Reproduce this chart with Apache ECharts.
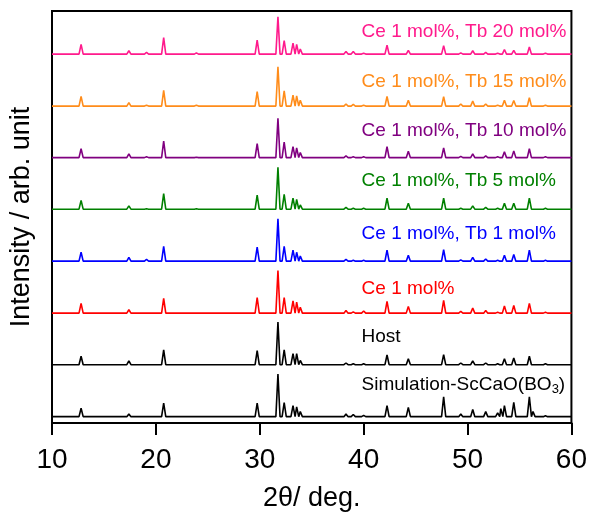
<!DOCTYPE html>
<html>
<head>
<meta charset="utf-8">
<script src="https://cdn.jsdelivr.net/npm/echarts@6/dist/echarts.min.js"></script>
<style>
    html, body { margin: 0; padding: 0; background: #fff; }
    #chart_xrd { width: 590px; height: 517px; }
</style>
</head>
<body>
<div id="chart_xrd"></div>
<script>
// 峰位 2θ (deg.)
var peakPos = [12.8, 17.4, 19.1, 20.75, 23.9, 29.75, 31.75, 32.35, 33.2, 33.55, 33.9, 38.3, 39.0, 40.0,
    42.25, 44.3, 47.7, 49.35, 50.5, 51.75, 52.9, 53.2, 53.55, 54.45, 55.95, 56.3, 57.5];

// 各曲线峰高 (相对强度, 主峰约 100)
var simPeak    = [20, 6, 0, 32, 0, 32, 101, 33, 26, 23, 12, 6, 5, 3, 26, 22, 47, 6, 17, 12, 9, 19, 26, 34, 47, 12, 2];
var hostPeak   = [20, 9, 0, 35, 0, 33, 101, 35, 26, 26, 10, 4, 2, 2, 23, 14, 24, 4, 9, 4, 2, 0, 14, 16, 20, 0, 2];
var ce1Peak    = [23, 8, 0, 35, 0, 37, 101, 37, 29, 26, 14, 6, 3, 5, 28, 16, 30, 4, 12, 6, 2, 0, 17, 18, 23, 0, 2];
var tb1Peak    = [21, 9, 4, 35, 0, 33, 100, 35, 26, 21, 12, 4, 2, 2, 26, 14, 27, 3, 9, 5, 2, 0, 14, 16, 26, 0, 2];
var tb5Peak    = [21, 8, 1, 37, 1, 33, 99, 35, 26, 23, 10, 4, 2, 2, 26, 14, 26, 2, 8, 4, 2, 0, 14, 14, 26, 0, 2];
var tb10Peak   = [21, 9, 2, 39, 1, 33, 93, 37, 26, 23, 12, 4, 2, 2, 26, 15, 23, 3, 9, 4, 2, 0, 14, 16, 21, 0, 2];
var tb15Peak   = [23, 8, 2, 37, 2, 34, 93, 36, 26, 24, 14, 5, 4, 2, 23, 14, 22, 5, 12, 5, 2, 0, 14, 13, 20, 0, 2];
var tb20Peak   = [23, 8, 4, 39, 3, 33, 88, 32, 26, 23, 12, 6, 6, 2, 21, 9, 20, 3, 8, 4, 2, 0, 11, 9, 17, 0, 2];

// 曲线名称 (自下而上)
var seriesNames = ['Simulation-ScCaO(BO3)', 'Host', 'Ce 1 mol%', 'Ce 1 mol%, Tb 1 mol%',
    'Ce 1 mol%, Tb 5 mol%', 'Ce 1 mol%, Tb 10 mol%', 'Ce 1 mol%, Tb 15 mol%', 'Ce 1 mol%, Tb 20 mol%'];

// 基线偏移
var offsets = [15, 138, 260, 383, 506, 628, 750, 873];

var allPeaks = [simPeak, hostPeak, ce1Peak, tb1Peak, tb5Peak, tb10Peak, tb15Peak, tb20Peak];
var colors = ['#000000', '#000000', '#ff0000', '#0000ff', '#008000', '#800080', '#ff8c1a', '#ff1a8c'];

// 标签相对基线的高度 / 起始 2θ
var labelRise = [76, 65, 58, 65, 67, 64, 58, 53];
var labelX = 39.8;

var font = 'Arial, "Liberation Sans", sans-serif';
var halfWidth = 0.2;

/**
 * 由峰位和峰高生成折线点
 * @param {arr} heights
 * @param {num} base
 */
var buildLine = function(heights, base) {
    var pts = [[10, base]];
    peakPos.forEach(function(p, i) {
        if (!heights[i]) return;
        pts.push([p - halfWidth, base], [p, base + heights[i]], [p + halfWidth, base]);
    });
    pts.push([60, base]);
    return pts;
};

var chart = echarts.init(document.getElementById('chart_xrd'));

var series = allPeaks.map(function(h, i) {
    var isSim = i === 0;
    return {
        name: seriesNames[i],
        type: 'line',
        symbol: 'none',
        lineStyle: { color: colors[i], width: 1.6 },
        data: buildLine(h, offsets[i]),
        markPoint: {
            symbol: 'circle',
            symbolSize: 0,
            silent: true,
            data: [{ coord: [labelX, offsets[i] + labelRise[i]] }],
            label: {
                show: true,
                position: 'right',
                distance: 0,
                fontFamily: font,
                fontSize: 19,
                color: colors[i],
                formatter: isSim ? '{a|Simulation-ScCaO(BO}{b|3}{a|)}' : seriesNames[i],
                rich: isSim ? {
                    a: { fontFamily: font, fontSize: 19, color: '#000', lineHeight: 23, verticalAlign: 'middle' },
                    b: { fontFamily: font, fontSize: 13, color: '#000', lineHeight: 23, verticalAlign: 'bottom' }
                } : undefined
            }
        }
    };
});

var option = {
    animation: false,
    backgroundColor: '#fff',
    grid: {
        left: 47,
        right: 17,
        top: 11,
        bottom: 87,
        show: true,
        borderColor: '#000',
        borderWidth: 2
    },
    xAxis: {
        type: 'value',
        min: 10,
        max: 60,
        interval: 10,
        name: '2θ/ deg.',
        nameLocation: 'middle',
        nameGap: 62,
        nameTextStyle: { fontFamily: font, fontSize: 27, color: '#000' },
        axisLine: { lineStyle: { color: '#000', width: 2 } },
        axisTick: { inside: false, length: 12, lineStyle: { color: '#000', width: 2 } },
        axisLabel: { fontFamily: font, fontSize: 28, color: '#000', margin: 23 },
        splitLine: { show: false }
    },
    yAxis: {
        type: 'value',
        min: 0,
        max: 975,
        name: 'Intensity / arb. unit',
        nameLocation: 'middle',
        nameGap: 17,
        nameTextStyle: { fontFamily: font, fontSize: 27, color: '#000' },
        axisLine: { show: true, lineStyle: { color: '#000', width: 2 } },
        axisTick: { show: false },
        axisLabel: { show: false },
        splitLine: { show: false }
    },
    series: series
};

chart.setOption(option);
</script>
</body>
</html>
